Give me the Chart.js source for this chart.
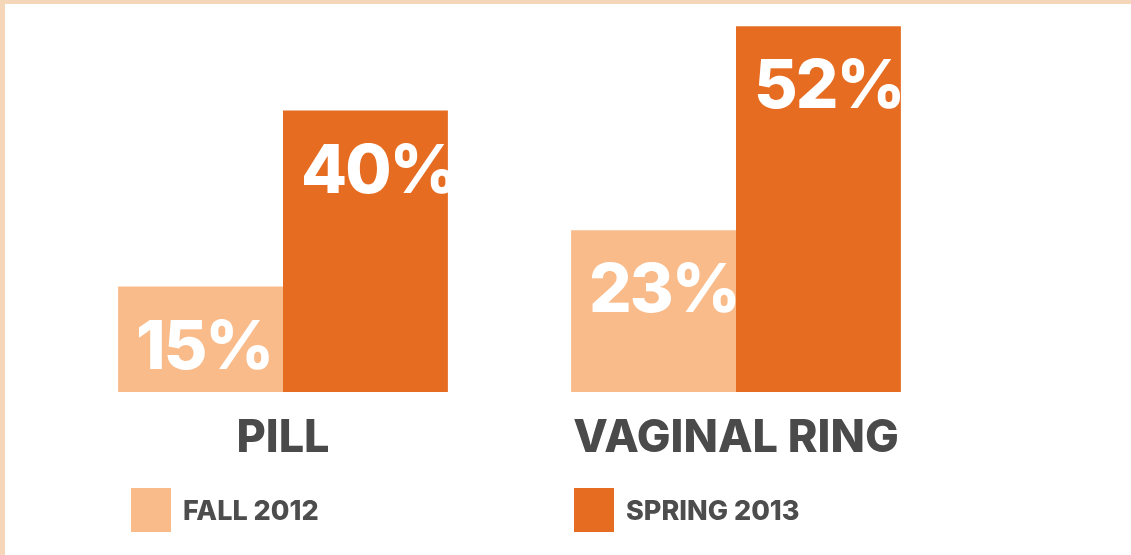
<!DOCTYPE html>
<html lang="en">
  <head>
    <meta charset="UTF-8" />
    <script src="https://cdn.jsdelivr.net/npm/chart.js"></script>
    <style>
      html, body { margin: 0; padding: 0; background: #fff; }
      .frame {
        position: relative;
        width: 1126px;
        height: 551px;
        border-top: 4px solid #f5d6b8;
        border-left: 5px solid #f5d6b8;
        overflow: hidden;
        font-family: Inter, 'Noto Sans', sans-serif;
      }
      #chart_box { position: absolute; left: 0; top: 0; width: 1126px; height: 551px; }
      .legend-item {
        position: absolute;
        top: 484px;
        display: flex;
        align-items: center;
        font-weight: 800;
        font-size: 27px;
        color: #4d4d4d;
      }
      .legend-item .swatch { width: 40px; height: 44px; margin-right: 12px; }
    </style>
    <title>Pill vs vaginal ring</title>
  </head>
  <body>
    <div class="frame">
      <div id="chart_box"><canvas id="chart_methods"></canvas></div>
      <div class="legend-item" style="left: 126px">
        <div class="swatch" style="background: #f9bb8a"></div><span>FALL 2012</span>
      </div>
      <div class="legend-item" style="left: 569px">
        <div class="swatch" style="background: #e66c22"></div><span>SPRING 2013</span>
      </div>
    </div>
  </body>
</html>

<script>
  const categories = ['PILL', 'VAGINAL RING'];
  const fall2012 = [15, 23];
  const spring2013 = [40, 52];
  const seriesNames = ['FALL 2012', 'SPRING 2013'];

  // white percent labels inside the top-left of every bar
  const valueLabels = {
    id: 'valueLabels',
    afterDatasetsDraw(chart) {
      const ctx = chart.ctx;
      ctx.save();
      ctx.fillStyle = '#ffffff';
      ctx.font = '800 67px Inter, sans-serif';
      ctx.letterSpacing = '-2px';
      ctx.textAlign = 'left';
      ctx.textBaseline = 'alphabetic';
      chart.data.datasets.forEach((ds, i) => {
        chart.getDatasetMeta(i).data.forEach((bar, j) => {
          const left = bar.x - bar.width / 2;
          ctx.fillText(ds.data[j] + '%', left + 18, bar.y + 82);
        });
      });
      ctx.restore();
    },
  };

  new Chart(document.getElementById('chart_methods'), {
    type: 'bar',
    data: {
      labels: categories,
      datasets: [
        { label: seriesNames[0], data: fall2012, backgroundColor: '#f9bb8a' },
        { label: seriesNames[1], data: spring2013, backgroundColor: '#e66c22' },
      ],
    },
    options: {
      responsive: true,
      maintainAspectRatio: false,
      animation: false,
      categoryPercentage: 0.728,
      barPercentage: 1,
      layout: { padding: { left: 51.5, right: 168.5, top: 13, bottom: 76 } },
      plugins: { legend: { display: false }, tooltip: { enabled: false } },
      scales: {
        x: {
          grid: { display: false, drawTicks: false },
          border: { display: false },
          ticks: {
            color: '#4a4a4a',
            padding: 14,
            font: { family: 'Inter', size: 45, weight: 800 },
          },
        },
        y: {
          display: false,
          min: -0.7,
          max: 53.3,
        },
      },
    },
    plugins: [valueLabels],
  });
</script>
